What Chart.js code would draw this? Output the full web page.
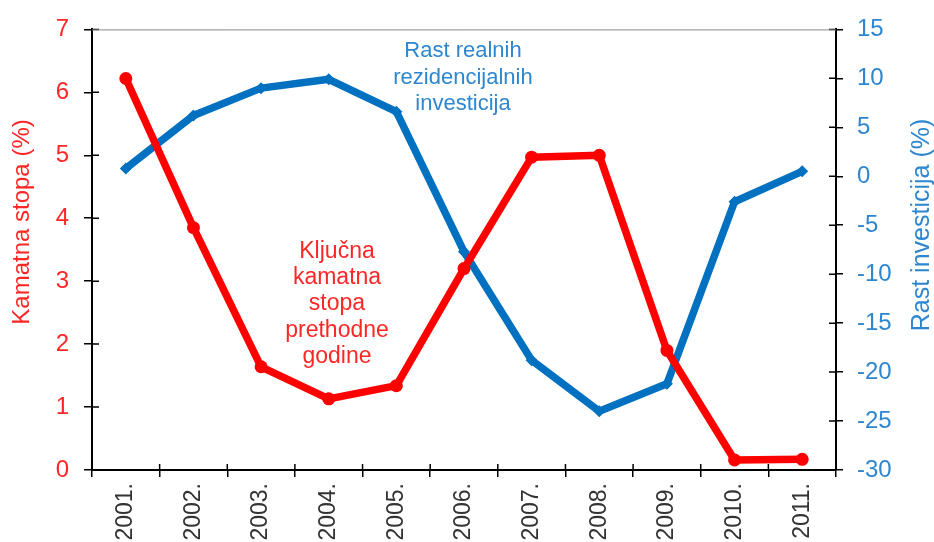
<!DOCTYPE html>
<html>
<head>
<meta charset="utf-8">
<script src="https://cdn.jsdelivr.net/npm/chart.js@4.4.1/dist/chart.umd.min.js"></script>
<style>
  html, body { margin: 0; padding: 0; background: #fff; overflow: hidden; }
  #wrap { width: 934px; height: 542px; overflow: hidden; }
</style>
</head>
<body>
<div id="wrap"><canvas id="chart" width="934" height="560"></canvas></div>
<script>
// data
const years = ['2001.', '2002.', '2003.', '2004.', '2005.', '2006.', '2007.', '2008.', '2009.', '2010.', '2011.'];
const kamatnaStopa = [6.22, 3.85, 1.64, 1.13, 1.34, 3.2, 4.97, 5.0, 1.9, 0.16, 0.17];
const rastInvesticija = [0.8, 6.2, 9.0, 9.9, 6.6, -7.7, -18.8, -24.0, -21.2, -2.6, 0.5];
const leftTicks = [0, 1, 2, 3, 4, 5, 6, 7];
const rightTicks = [-30, -25, -20, -15, -10, -5, 0, 5, 10, 15];

const RED = '#ff0000';
const BLUE = '#0070c0';
const RED_TXT = '#ff2626';
const BLUE_TXT = '#2e86cf';
const FONT = '"Liberation Sans", Arial, sans-serif';

// inner tick stubs, top frame line, axis titles and text notes
const extras = {
  id: 'extras',
  afterDraw(chart) {
    const ctx = chart.ctx;
    const a = chart.chartArea;
    const yl = chart.scales.y;
    const yr = chart.scales.y2;
    ctx.save();
    ctx.strokeStyle = '#000';
    ctx.lineWidth = 1.5;
    ctx.beginPath();
    leftTicks.forEach(v => {
      const p = yl.getPixelForValue(v);
      ctx.moveTo(a.left, p); ctx.lineTo(a.left + 7, p);
    });
    rightTicks.forEach(v => {
      const p = yr.getPixelForValue(v);
      ctx.moveTo(a.right - 7, p); ctx.lineTo(a.right, p);
    });
    const step = (a.right - a.left) / years.length;
    for (let i = 0; i <= years.length; i++) {
      const x = a.left + i * step;
      ctx.moveTo(x, a.bottom - 6); ctx.lineTo(x, a.bottom);
    }
    ctx.stroke();

    ctx.strokeStyle = '#888';
    ctx.lineWidth = 1;
    ctx.beginPath();
    ctx.moveTo(a.left, a.top + 0.5); ctx.lineTo(a.right, a.top + 0.5);
    ctx.stroke();

    ctx.textAlign = 'center';
    ctx.textBaseline = 'middle';
    ctx.font = '24px ' + FONT;
    ctx.fillStyle = RED_TXT;
    ctx.save();
    ctx.translate(22, 222); ctx.rotate(-Math.PI / 2);
    ctx.fillText('Kamatna stopa (%)', 0, 0);
    ctx.restore();
    ctx.font = '25px ' + FONT;
    ctx.fillStyle = BLUE_TXT;
    ctx.save();
    ctx.translate(922, 225); ctx.rotate(-Math.PI / 2);
    ctx.fillText('Rast investicija (%)', 0, 0);
    ctx.restore();

    ctx.textBaseline = 'alphabetic';
    ctx.font = '22px ' + FONT;
    ctx.fillStyle = BLUE_TXT;
    ['Rast realnih', 'rezidencijalnih', 'investicija'].forEach((t, i) => {
      ctx.fillText(t, 463, 57 + i * 26.5);
    });
    ctx.font = '23px ' + FONT;
    ctx.fillStyle = RED_TXT;
    ['Ključna', 'kamatna', 'stopa', 'prethodne', 'godine'].forEach((t, i) => {
      ctx.fillText(t, 337, 258 + i * 26.2);
    });
    ctx.restore();
  }
};

new Chart(document.getElementById('chart'), {
  type: 'line',
  data: {
    labels: years,
    datasets: [
      {
        label: 'Ključna kamatna stopa prethodne godine',
        data: kamatnaStopa,
        yAxisID: 'y',
        borderColor: RED,
        backgroundColor: RED,
        borderWidth: 7.5,
        pointStyle: 'circle',
        pointRadius: 6.5,
        pointBorderWidth: 0,
        borderJoinStyle: 'round',
        tension: 0
      },
      {
        label: 'Rast realnih rezidencijalnih investicija',
        data: rastInvesticija,
        yAxisID: 'y2',
        borderColor: BLUE,
        backgroundColor: BLUE,
        borderWidth: 7.5,
        pointStyle: 'rectRot',
        pointRadius: 6,
        pointBorderWidth: 0,
        borderJoinStyle: 'round',
        tension: 0
      }
    ]
  },
  options: {
    responsive: false,
    animation: false,
    devicePixelRatio: 1,
    layout: { padding: { top: 22 } },
    plugins: { legend: { display: false }, tooltip: { enabled: false } },
    scales: {
      x: {
        offset: true,
        grid: { offset: true, drawOnChartArea: false, color: '#000', lineWidth: 1.5, tickLength: 7 },
        border: { color: '#000', width: 2 },
        ticks: { color: '#333', font: { family: FONT, size: 23 }, minRotation: 90, maxRotation: 90, padding: 6 },
        afterFit(s) { s.height = 90; }
      },
      y: {
        position: 'left',
        min: 0, max: 7,
        afterBuildTicks(s) { s.ticks = leftTicks.map(v => ({ value: v })); },
        grid: { drawOnChartArea: false, color: '#000', lineWidth: 1.5, tickLength: 8 },
        border: { color: '#000', width: 2 },
        ticks: { color: RED_TXT, font: { family: FONT, size: 24 }, padding: 15 },
        afterFit(s) { s.width = 92; }
      },
      y2: {
        position: 'right',
        min: -30, max: 15,
        afterBuildTicks(s) { s.ticks = rightTicks.map(v => ({ value: v })); },
        grid: { drawOnChartArea: false, color: '#000', lineWidth: 1.5, tickLength: 7 },
        border: { color: '#000', width: 2 },
        ticks: { color: BLUE_TXT, font: { family: FONT, size: 24 }, padding: 14 },
        afterFit(s) { s.width = 98; }
      }
    }
  },
  plugins: [extras]
});
</script>
</body>
</html>
